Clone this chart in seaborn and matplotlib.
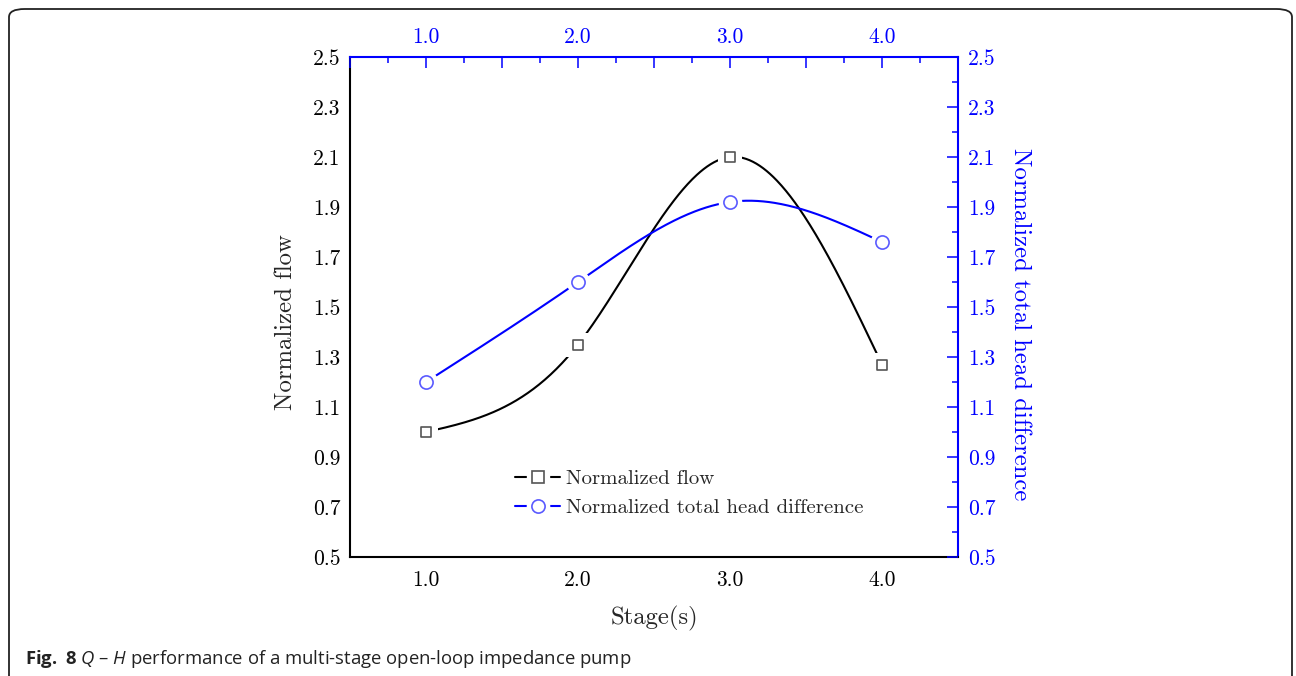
import numpy as np
import matplotlib
matplotlib.use("Agg")
import matplotlib.pyplot as plt
import seaborn as sns
from matplotlib.lines import Line2D
from matplotlib.patches import FancyBboxPatch
from matplotlib.legend_handler import HandlerTuple
from matplotlib.ticker import MultipleLocator

# data
stages = [1.0, 2.0, 3.0, 4.0]
norm_flow = [1.00, 1.35, 2.10, 1.27]
norm_head = [1.20, 1.60, 1.92, 1.76]
x_ticks = [0.5, 1.0, 1.5, 2.0, 2.5, 3.0, 3.5, 4.0, 4.5]
x_ticklabels = ["", "1.0", "", "2.0", "", "3.0", "", "4.0", ""]
y_ticks = [0.5, 0.7, 0.9, 1.1, 1.3, 1.5, 1.7, 1.9, 2.1, 2.3, 2.5]
y_ticklabels = ["0.5", "0.7", "0.9", "1.1", "1.3", "1.5", "1.7", "1.9", "2.1", "2.3", "2.5"]

BLUE = "#0000ff"
W, H = 1296, 676

sns.set_style("white")
plt.rcParams["font.family"] = ["cmr10", "DejaVu Serif"]
plt.rcParams["axes.formatter.use_mathtext"] = True
plt.rcParams["mathtext.fontset"] = "custom"
plt.rcParams["mathtext.rm"] = "Open Sans"
plt.rcParams["mathtext.it"] = "Open Sans:italic"
plt.rcParams["mathtext.bf"] = "Open Sans:bold"


def natural_spline(t, v, tt):
    """Natural cubic spline through (t, v), evaluated at tt (only used to draw the line)."""
    t = np.asarray(t, float)
    v = np.asarray(v, float)
    n = len(t)
    h = np.diff(t)
    A = np.zeros((n, n))
    b = np.zeros(n)
    A[0, 0] = A[-1, -1] = 1
    for i in range(1, n - 1):
        A[i, i - 1] = h[i - 1]
        A[i, i] = 2 * (h[i - 1] + h[i])
        A[i, i + 1] = h[i]
        b[i] = 6 * ((v[i + 1] - v[i]) / h[i] - (v[i] - v[i - 1]) / h[i - 1])
    M = np.linalg.solve(A, b)
    idx = np.clip(np.searchsorted(t, tt) - 1, 0, n - 2)
    t0, t1 = t[idx], t[idx + 1]
    hh = t1 - t0
    a = (t1 - tt) / hh
    c = (tt - t0) / hh
    return a * v[idx] + c * v[idx + 1] + ((a**3 - a) * M[idx] + (c**3 - c) * M[idx + 1]) * hh**2 / 6


def smooth_curve(xs, ys):
    xx = np.linspace(xs[0], xs[-1], 400)
    return xx, natural_spline(xs, ys, xx)


fig = plt.figure(figsize=(W / 100, H / 100), dpi=100)
rect = [350 / W, 1 - 557 / H, 608 / W, 500 / H]
ax = fig.add_axes(rect)
ax2 = fig.add_axes(rect, frameon=False)

# flow (bottom / left axes); a white marker underneath leaves a gap in the line
fx, fy = smooth_curve(stages, norm_flow)
sns.lineplot(x=fx, y=fy, sort=False, estimator=None, color="black", linewidth=1.5, ax=ax, zorder=2)
sns.scatterplot(x=stages, y=norm_flow, marker="s", s=310, color="white", edgecolor="white",
                linewidth=0, ax=ax, zorder=5)
sns.scatterplot(x=stages, y=norm_flow, marker="s", s=62, color="white", edgecolor="#555555",
                linewidth=1.2, ax=ax, zorder=6)

# head difference (top / right axes)
hx, hy = smooth_curve(stages, norm_head)
sns.lineplot(x=hx, y=hy, sort=False, estimator=None, color=BLUE, linewidth=1.5, ax=ax2, zorder=2)
sns.scatterplot(x=stages, y=norm_head, marker="o", s=290, color="white", edgecolor="white",
                linewidth=0, ax=ax2, zorder=5)
sns.scatterplot(x=stages, y=norm_head, marker="o", s=90, color="white", edgecolor="#5a5aff",
                linewidth=1.2, ax=ax2, zorder=6)

for a in (ax, ax2):
    a.set_xlim(0.5, 4.5)
    a.set_ylim(0.5, 2.5)
    a.set_xticks(x_ticks)
    a.set_xticklabels(x_ticklabels)
    a.set_yticks(y_ticks)
    a.set_yticklabels(y_ticklabels)
    a.xaxis.set_minor_locator(MultipleLocator(0.25))
    a.yaxis.set_minor_locator(MultipleLocator(0.1))
    a.set_xlabel("")
    a.set_ylabel("")

ax.tick_params(axis="both", which="major", direction="in", length=8, width=1.1,
               labelsize=15.5, pad=7, colors="black", top=False, right=False)
ax.tick_params(axis="both", which="minor", direction="in", length=4, width=1.1,
               top=False, right=False)
ax.tick_params(axis="x", which="major", pad=9.5)

ax2.xaxis.tick_top()
ax2.yaxis.tick_right()
ax2.tick_params(axis="both", which="major", direction="in", length=8, width=1.1,
                labelsize=15.5, pad=7, colors=BLUE, bottom=False, left=False,
                labelbottom=False, labelleft=False, labeltop=True, labelright=True)
ax2.tick_params(axis="both", which="minor", direction="in", length=4, width=1.1,
                colors=BLUE, bottom=False, left=False)
ax2.tick_params(axis="x", which="major", pad=7)

for side in ("left", "bottom"):
    ax.spines[side].set_color("black")
    ax.spines[side].set_linewidth(1.5)
for side in ("top", "right"):
    ax.spines[side].set_color(BLUE)
    ax.spines[side].set_linewidth(1.5)

ax.set_xlabel("Stage(s)", fontsize=17.8, va="center")
ax.xaxis.set_label_coords(0.5, -0.122)
ax.set_ylabel("Normalized flow", fontsize=17.8, va="center")
ax.yaxis.set_label_coords(-0.105, 0.47)
ax2.set_ylabel("Normalized total head difference", fontsize=17.8, color=BLUE,
               rotation=270, va="center")
ax2.yaxis.set_label_position("right")
ax2.yaxis.set_label_coords(1.120, 0.466)

# legend with a gap round each marker
flow_handle = (Line2D([], [], color="black", linewidth=1.5),
               Line2D([], [], marker="s", markersize=16, color="white", linestyle="none"),
               Line2D([], [], marker="s", markersize=8, markerfacecolor="white",
                      markeredgecolor="#555555", markeredgewidth=1.2, linestyle="none"))
head_handle = (Line2D([], [], color=BLUE, linewidth=1.5),
               Line2D([], [], marker="o", markersize=16, color="white", linestyle="none"),
               Line2D([], [], marker="o", markersize=9.5, markerfacecolor="white",
                      markeredgecolor="#5a5aff", markeredgewidth=1.2, linestyle="none"))
fig.legend([flow_handle, head_handle], ["Normalized flow", "Normalized total head difference"],
           handler_map={tuple: HandlerTuple(ndivide=1)}, loc="upper left",
           bbox_to_anchor=(505 / W, 1 - 459 / H), frameon=False, fontsize=15,
           handlelength=2.15, handletextpad=0.3, labelspacing=0.5, borderpad=0)

# caption and rounded frame
fig.text(25 / W, 1 - 664 / H,
         r"$\mathbf{Fig.\ 8}$ $\mathit{Q}$ – $\mathit{H}$ performance of a multi-stage open-loop impedance pump",
         fontsize=13.3, fontfamily="Open Sans", color="#222222", va="baseline")
fig.patches.append(FancyBboxPatch((9 / W, -8 / H), 1283 / W, (H - 1) / H,
                                  boxstyle="round,pad=0,rounding_size=0.012",
                                  transform=fig.transFigure, fill=False,
                                  edgecolor="#222222", linewidth=1.3))

fig.savefig("out.png", dpi=100)
